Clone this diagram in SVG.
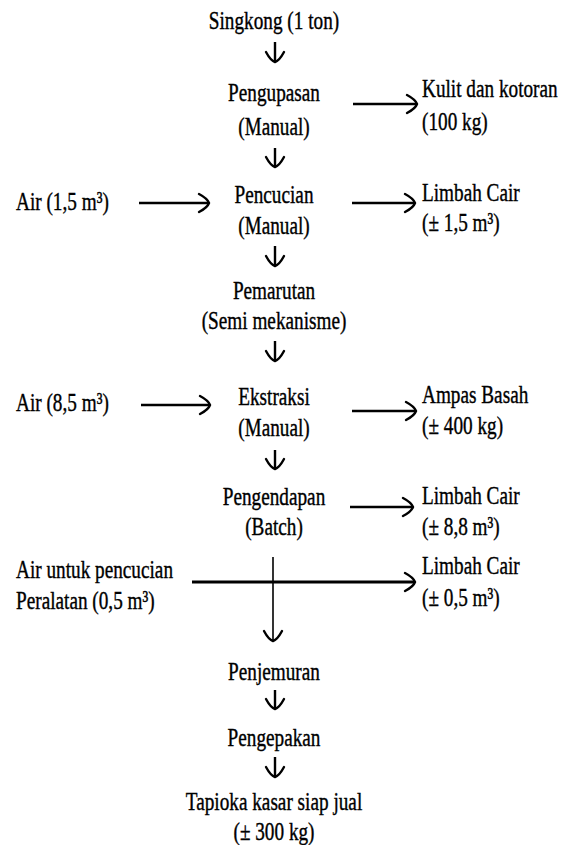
<svg xmlns="http://www.w3.org/2000/svg" width="567" height="845" viewBox="0 0 567 845">
  <style>
    text { font-family: "Liberation Serif", "Times New Roman", serif; font-size: 26px; fill: #000; stroke: #000; stroke-width: 0.4; }
    .c { text-anchor: middle; }
    .l { text-anchor: start; }
    .flow { fill: none; stroke: #000; stroke-width: 2.4; }
    .thin { fill: none; stroke: #000; stroke-width: 1.6; }
    .bar { fill: none; stroke: #000; stroke-width: 3.2; }
  </style>
  <defs>
    <marker id="head" viewBox="-14 -10 16 20" refX="0" refY="0" markerWidth="16" markerHeight="20" markerUnits="userSpaceOnUse" orient="auto" overflow="visible">
      <path d="M-10,-9 Q-1.5,-4.5 0,0 Q-1.5,4.5 -10,9" fill="none" stroke="#000" stroke-width="2.4" stroke-linecap="round"/>
    </marker>
  </defs>

  <rect width="567" height="845" fill="#fff"/>

  <!-- main process column -->
  <g id="singkong"><text class="c" transform="translate(274 29) scale(.74 1)">Singkong (1 ton)</text></g>
  <g id="pengupasan">
    <text class="c" transform="translate(274 101) scale(.74 1)">Pengupasan</text>
    <text class="c" transform="translate(274 135) scale(.74 1)">(Manual)</text>
  </g>
  <g id="pencucian">
    <text class="c" transform="translate(274 203) scale(.74 1)">Pencucian</text>
    <text class="c" transform="translate(274 234) scale(.74 1)">(Manual)</text>
  </g>
  <g id="pemarutan">
    <text class="c" transform="translate(274 299) scale(.74 1)">Pemarutan</text>
    <text class="c" transform="translate(274 329) scale(.74 1)">(Semi mekanisme)</text>
  </g>
  <g id="ekstraksi">
    <text class="c" transform="translate(274 405) scale(.74 1)">Ekstraksi</text>
    <text class="c" transform="translate(274 436) scale(.74 1)">(Manual)</text>
  </g>
  <g id="pengendapan">
    <text class="c" transform="translate(274 505) scale(.74 1)">Pengendapan</text>
    <text class="c" transform="translate(274 535) scale(.74 1)">(Batch)</text>
  </g>
  <g id="penjemuran"><text class="c" transform="translate(274 680) scale(.74 1)">Penjemuran</text></g>
  <g id="pengepakan"><text class="c" transform="translate(274 746) scale(.74 1)">Pengepakan</text></g>
  <g id="tapioka">
    <text class="c" transform="translate(274 810) scale(.74 1)">Tapioka kasar siap jual</text>
    <text class="c" transform="translate(274 840) scale(.74 1)">(± 300 kg)</text>
  </g>

  <!-- inputs -->
  <g id="air1"><text class="l" transform="translate(16 210) scale(.74 1)">Air (1,5 m³)</text></g>
  <g id="air2"><text class="l" transform="translate(16 411) scale(.74 1)">Air (8,5 m³)</text></g>
  <g id="air3">
    <text class="l" transform="translate(16 578) scale(.74 1)">Air untuk pencucian</text>
    <text class="l" transform="translate(16 609) scale(.74 1)">Peralatan (0,5 m³)</text>
  </g>

  <!-- outputs -->
  <g id="kulit">
    <text class="l" transform="translate(422 97) scale(.74 1)">Kulit dan kotoran</text>
    <text class="l" transform="translate(422 130) scale(.74 1)">(100 kg)</text>
  </g>
  <g id="limbah1">
    <text class="l" transform="translate(422 201) scale(.74 1)">Limbah Cair</text>
    <text class="l" transform="translate(422 231) scale(.74 1)">(± 1,5 m³)</text>
  </g>
  <g id="ampas">
    <text class="l" transform="translate(422 403) scale(.74 1)">Ampas Basah</text>
    <text class="l" transform="translate(422 434) scale(.74 1)">(± 400 kg)</text>
  </g>
  <g id="limbah2">
    <text class="l" transform="translate(422 504) scale(.74 1)">Limbah Cair</text>
    <text class="l" transform="translate(422 535) scale(.74 1)">(± 8,8 m³)</text>
  </g>
  <g id="limbah3">
    <text class="l" transform="translate(422 574) scale(.74 1)">Limbah Cair</text>
    <text class="l" transform="translate(422 606) scale(.74 1)">(± 0,5 m³)</text>
  </g>

  <!-- connectors -->
  <g id="connectors">
    <!-- downward steps -->
    <line class="flow" x1="275" y1="42" x2="275" y2="62" marker-end="url(#head)"/>
    <line class="flow" x1="275" y1="148" x2="275" y2="167" marker-end="url(#head)"/>
    <line class="flow" x1="275" y1="246" x2="275" y2="266" marker-end="url(#head)"/>
    <line class="flow" x1="275" y1="341" x2="275" y2="361" marker-end="url(#head)"/>
    <line class="flow" x1="275" y1="450" x2="275" y2="469" marker-end="url(#head)"/>
    <line class="thin" x1="273" y1="557" x2="273" y2="641" marker-end="url(#head)"/>
    <line class="flow" x1="275" y1="690" x2="275" y2="709" marker-end="url(#head)"/>
    <line class="flow" x1="275" y1="757" x2="275" y2="777" marker-end="url(#head)"/>

    <!-- inputs -->
    <line class="flow" x1="139" y1="203" x2="209" y2="203" marker-end="url(#head)"/>
    <line class="flow" x1="141" y1="405" x2="210" y2="405" marker-end="url(#head)"/>

    <!-- outputs -->
    <line class="flow" x1="353" y1="104" x2="417" y2="104" marker-end="url(#head)"/>
    <line class="flow" x1="352" y1="203" x2="415" y2="203" marker-end="url(#head)"/>
    <line class="flow" x1="352" y1="411" x2="416" y2="411" marker-end="url(#head)"/>
    <line class="flow" x1="350" y1="507" x2="413" y2="507" marker-end="url(#head)"/>
    <line class="bar" x1="192" y1="582" x2="415" y2="582" marker-end="url(#head)"/>
  </g>
</svg>
